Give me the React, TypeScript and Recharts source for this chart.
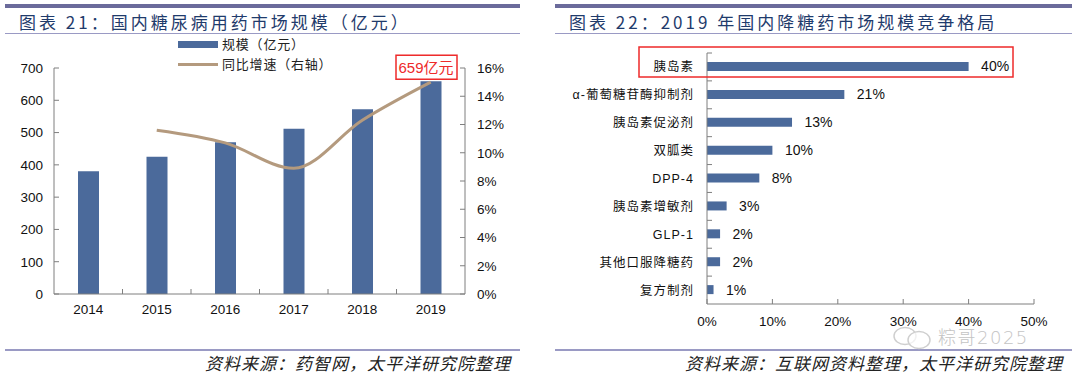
import React from "react"
import {
  ComposedChart,
  BarChart,
  Bar,
  Line,
  XAxis,
  YAxis,
  LabelList,
} from "recharts"

// left: market size (亿元) + yoy growth
const years = ["2014", "2015", "2016", "2017", "2018", "2019"]
const marketSize = [380, 425, 470, 512, 572, 659]
const growth = [null, 11.6, 10.7, 8.9, 12.3, 15.0]
const sizeTicks = [0, 100, 200, 300, 400, 500, 600, 700]
const growthTicks = [0, 2, 4, 6, 8, 10, 12, 14, 16]

// right: 2019 share by drug class
const drugClasses = [
  "胰岛素",
  "α-葡萄糖苷酶抑制剂",
  "胰岛素促泌剂",
  "双胍类",
  "DPP-4",
  "胰岛素增敏剂",
  "GLP-1",
  "其他口服降糖药",
  "复方制剂",
]
const shares = [40, 21, 13, 10, 8, 3, 2, 2, 1]
const shareTicks = [0, 10, 20, 30, 40, 50]

const sizeData = years.map((y, i) => ({ year: y, size: marketSize[i], growth: growth[i] }))
const shareData = drugClasses.map((c, i) => ({ name: c, share: shares[i] }))

const BAR = "#4b6a9b"
const LINE = "#b49a7e"
const AXIS = "#7f7f7f"
const RULE = "#9a9ac4"
const TOPBAR = "#6b6b9b"
const TITLE = "#1f3b6c"
const RED = "#ee2a2a"
const FONT = "'Liberation Sans', 'Noto Sans CJK SC', sans-serif"
const CJK = "'Noto Sans CJK SC', sans-serif"

const BAND_L = (465 - 54) / years.length
const BAND_R = (304.3 - 53.3) / drugClasses.length

const LeftTick = (p: any) => (
  <g>
    <line x1={p.x + 11} x2={p.x + 16} y1={p.y} y2={p.y} stroke={AXIS} />
    <text x={p.x} y={p.y} dy="0.36em" textAnchor="end" fontSize={13.5} fill="#111" fontFamily={FONT}>
      {p.payload.value}
    </text>
  </g>
)

const RightTick = (p: any) => (
  <g>
    <line x1={p.x - 12} x2={p.x - 17} y1={p.y} y2={p.y} stroke={AXIS} />
    <text x={p.x} y={p.y} dy="0.36em" textAnchor="start" fontSize={13.5} fill="#111" fontFamily={FONT}>
      {p.payload.value}%
    </text>
  </g>
)

const YearTick = (p: any) => (
  <g>
    {p.index < years.length - 1 && (
      <line x1={p.x + BAND_L / 2} x2={p.x + BAND_L / 2} y1={p.y - 10} y2={p.y - 15} stroke={AXIS} />
    )}
    <text x={p.x} y={p.y} dy="0.71em" textAnchor="middle" fontSize={13.5} fill="#111" fontFamily={FONT}>
      {p.payload.value}
    </text>
  </g>
)

const ClassTick = (p: any) => (
  <g>
    <line x1={p.x + 13} x2={p.x + 18} y1={p.y - BAND_R / 2} y2={p.y - BAND_R / 2} stroke={AXIS} />
    <text x={p.x} y={p.y} dy="0.36em" textAnchor="end" fontSize={12.5} letterSpacing={1} fill="#111" fontFamily={FONT}>
      {p.payload.value}
    </text>
  </g>
)

const ShareTick = (p: any) => (
  <g>
    <line x1={p.x} x2={p.x} y1={p.y - 12} y2={p.y - 17} stroke={AXIS} />
    <text x={p.x} y={p.y} dy="0.71em" textAnchor="middle" fontSize={13.5} fill="#111" fontFamily={FONT}>
      {p.payload.value}%
    </text>
  </g>
)

// red callout on the last bar
const SizeCallout = (p: any) => {
  if (p.index !== years.length - 1) return null
  const cx = p.x + p.width / 2 - 5
  return (
    <g>
      <rect x={cx - 30} y={p.y - 26} width={61} height={24} fill="#fff" stroke={RED} strokeWidth={1.5} />
      <text x={cx} y={p.y - 14} dy="0.36em" textAnchor="middle" fontSize={15} fill={RED} fontFamily={FONT}>
        {p.value}亿元
      </text>
    </g>
  )
}

// red frame round the top row
const TopRowFrame = (p: any) => {
  if (p.index !== 0) return null
  return <rect x={p.x - 68} y={p.y - 15} width={374} height={30} fill="none" stroke={RED} strokeWidth={1.5} />
}

const Panel = ({ left, width, title, source }: { left: number; width: number; title: string; source: string }) => (
  <>
    <div style={{ position: "absolute", left, top: 4, width, height: 3.5, background: TOPBAR }} />
    <div
      style={{
        position: "absolute",
        left: left + 14,
        top: 11,
        fontFamily: CJK,
        fontSize: 17,
        lineHeight: "22px",
        letterSpacing: 3,
        color: TITLE,
        whiteSpace: "nowrap",
      }}
    >
      {title}
    </div>
    <div style={{ position: "absolute", left, top: 33, width, height: 1, background: RULE }} />
    <div style={{ position: "absolute", left, top: 349, width, height: 1.5, background: RULE }} />
    <div
      style={{
        position: "absolute",
        right: 1080 - (left + width) + 9,
        top: 352,
        fontFamily: CJK,
        fontSize: 17,
        lineHeight: "22px",
        fontStyle: "italic",
        letterSpacing: 1,
        color: "#222",
        whiteSpace: "nowrap",
      }}
    >
      {source}
    </div>
  </>
)

export default function App() {
  return (
    <div style={{ position: "absolute", left: 0, top: 0, width: 1080, height: 376, background: "#fff", overflow: "hidden" }}>
      <Panel left={5} width={515} title="图表 21：国内糖尿病用药市场规模（亿元）" source="资料来源：药智网，太平洋研究院整理" />
      <Panel left={555} width={517} title="图表 22：2019 年国内降糖药市场规模竞争格局" source="资料来源：互联网资料整理，太平洋研究院整理" />

      <div style={{ position: "absolute", left: 0, top: 0 }}>
        <ComposedChart width={520} height={376} data={sizeData} margin={{ top: 68, right: 0, bottom: 52, left: 0 }}>
          <XAxis dataKey="year" height={30} stroke={AXIS} tickSize={0} tickMargin={10} tickLine={false} tick={<YearTick />} />
          <YAxis yAxisId="left" width={54} domain={[0, 700]} ticks={sizeTicks} stroke={AXIS} tickSize={0} tickMargin={11} tickLine={false} tick={<LeftTick />} />
          <YAxis yAxisId="right" orientation="right" width={55} domain={[0, 16]} ticks={growthTicks} stroke={AXIS} tickSize={0} tickMargin={12} tickLine={false} tick={<RightTick />} />
          <Bar yAxisId="left" dataKey="size" fill={BAR} barSize={21} isAnimationActive={false}>
            <LabelList dataKey="size" content={<SizeCallout />} />
          </Bar>
          <Line yAxisId="right" dataKey="growth" type="monotone" stroke={LINE} strokeWidth={3} dot={false} activeDot={false} isAnimationActive={false} />
        </ComposedChart>
      </div>

      {/* legend */}
      <div style={{ position: "absolute", left: 178, top: 41, width: 40, height: 6.5, background: BAR }} />
      <div style={{ position: "absolute", left: 222, top: 35, fontFamily: CJK, fontSize: 13, lineHeight: "18px", letterSpacing: 0.8, color: "#222" }}>规模（亿元）</div>
      <div style={{ position: "absolute", left: 178, top: 63, width: 40, height: 3, background: LINE }} />
      <div style={{ position: "absolute", left: 222, top: 55, fontFamily: CJK, fontSize: 13, lineHeight: "18px", letterSpacing: 0.8, color: "#222" }}>同比增速（右轴）</div>

      <div style={{ position: "absolute", left: 540, top: 0 }}>
        <BarChart layout="vertical" width={532} height={376} data={shareData} margin={{ top: 53, right: 38, bottom: 42, left: 0 }}>
          <XAxis type="number" domain={[0, 50]} ticks={shareTicks} height={30} stroke={AXIS} tickSize={0} tickMargin={12} tickLine={false} tick={<ShareTick />} />
          <YAxis type="category" dataKey="name" width={167} stroke={AXIS} tickSize={0} tickMargin={13} tickLine={false} tick={<ClassTick />} interval={0} />
          <Bar dataKey="share" fill={BAR} barSize={9} isAnimationActive={false}>
            <LabelList dataKey="share" position="right" offset={12.5} formatter={(v: any) => `${v}%`} fontSize={14} fill="#111" fontFamily={FONT} />
            <LabelList dataKey="share" content={<TopRowFrame />} />
          </Bar>
        </BarChart>
      </div>

      {/* watermark, nudged below the tick labels */}
      <svg style={{ position: "absolute", left: 892, top: 326 }} width={44} height={24}>
        <ellipse cx={13} cy={10} rx={11} ry={8.5} fill="none" stroke="#cfcfcf" strokeWidth={1.5} />
        <ellipse cx={27} cy={14} rx={11} ry={8.5} fill="rgba(255,255,255,0.7)" stroke="#cfcfcf" strokeWidth={1.5} />
      </svg>
      <div style={{ position: "absolute", left: 938, top: 327, fontFamily: "'DejaVu Sans', 'Noto Sans CJK SC', sans-serif", fontSize: 18, lineHeight: "21px", fontWeight: 300, letterSpacing: 1.5, color: "#c4c4c4", whiteSpace: "nowrap" }}>粽哥2025</div>
    </div>
  )
}
